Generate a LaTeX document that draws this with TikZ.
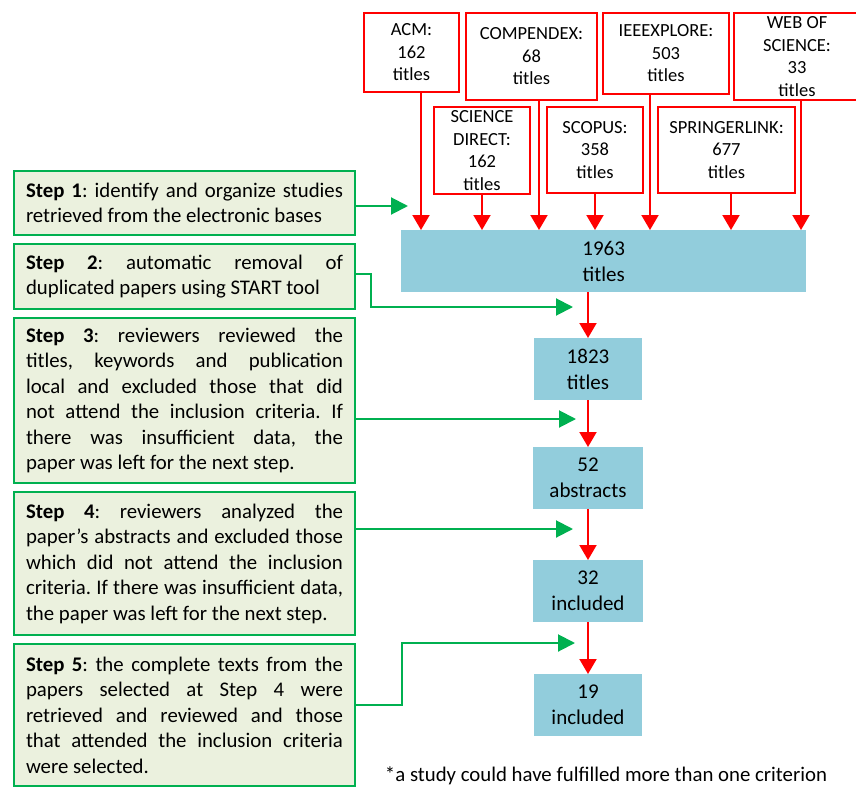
\documentclass[tikz,border=0pt]{standalone}
\usepackage{fontspec}
\setmainfont{Carlito}
\usetikzlibrary{arrows.meta,positioning,calc}
\definecolor{Red}{HTML}{FF0000}
\definecolor{Green}{HTML}{00B050}
\definecolor{stepFill}{HTML}{EBF1DE}
\definecolor{countFill}{HTML}{92CDDC}
\frenchspacing
\tikzset{
  base/.style={draw=Red,line width=2pt,fill=white,align=center,anchor=north west,inner sep=0pt,
    font=\fontsize{18.5}{22.5}\selectfont},
  count/.style={fill=countFill,align=center,inner sep=0pt,minimum height=62pt,
    font=\fontsize{21}{26}\selectfont},
  stepbox/.style={draw=Green,line width=2pt,fill=stepFill,anchor=north west,text width=317pt,
    inner xsep=12pt,align=justify,font=\fontsize{20.8}{25.5}\selectfont},
  redarr/.style={draw=Red,line width=2pt,-{Triangle[width=17pt,length=15pt]}},
  grnarr/.style={draw=Green,line width=2pt,-{Triangle[width=17pt,length=17pt]}},
}

\begin{document}
\begin{tikzpicture}[x=1pt,y=-1pt]
  \useasboundingbox (0,0) rectangle (856,789);
  % electronic bases
  \foreach \nm/\x/\y/\w/\h/\txt in {
      acm/363/12/95/79/{ACM:\\162\\titles},
      comp/465/12/131/87/{COMPENDEX:\\68\\titles},
      ieee/602/12/126/81/{IEEEXPLORE:\\503\\titles},
      wos/733/12/126/87/{WEB OF\\SCIENCE:\\33\\titles},
      sd/433/106/96/87/{SCIENCE\\DIRECT:\\162\\titles},
      scopus/546/106/96/86/{SCOPUS:\\358\\titles},
      spr/657/106/137/86/{SPRINGERLINK:\\677\\titles}}
    \node[base,minimum width=\w pt,minimum height=\h pt] (\nm) at (\x,\y) {\txt};

  \node[count,anchor=north west,minimum width=405pt] (total) at (401,230) {1963\\titles};
  \node[count,anchor=north,minimum width=108pt] (c1823) at (588,338) {1823\\titles};
  \node[count,anchor=north,minimum width=110pt] (c52) at (588,447) {52\\abstracts};
  \node[count,anchor=north,minimum width=110pt] (c32) at (588,560) {32\\included};
  \node[count,anchor=north,minimum width=108pt] (c19) at (588,674) {19\\included};

  \foreach \nm/\dx in {acm/9.5,comp/7.5,ieee/-16,wos/4,sd/0,scopus/0,spr/4.5}
    \draw[redarr] ([xshift=\dx pt]\nm.south) -- ([xshift=\dx pt]\nm.south |- total.north);
  \draw[redarr] (c1823.north |- total.south) -- (c1823.north);
  \draw[redarr] (c52.north |- c1823.south) -- (c52.north);
  \draw[redarr] (c32.north |- c52.south) -- (c32.north);
  \draw[redarr] (c19.north |- c32.south) -- (c19.north);

  % steps
  \node[stepbox,minimum height=64pt] (s1) at (13,170)
    {\textbf{Step 1}: identify and organize studies\linebreak retrieved from the electronic bases};
  \node[stepbox,minimum height=65pt] (s2) at (13,243)
    {\textbf{Step 2}: automatic removal of\linebreak duplicated papers using START tool};
  \node[stepbox,minimum height=165pt] (s3) at (13,317)
    {\textbf{Step 3}: reviewers reviewed the\linebreak titles, keywords and publication\linebreak
     local and excluded those that did\linebreak not attend the inclusion criteria. If\linebreak
     there was insufficient data, the\linebreak paper was left for the next step.};
  \node[stepbox,minimum height=143pt] (s4) at (13,491)
    {\textbf{Step 4}: reviewers analyzed the\linebreak paper's abstracts and excluded those\linebreak
     which did not attend the inclusion\linebreak criteria. If there was insufficient data,\linebreak
     the paper was left for the next step.};
  \node[stepbox,minimum height=142pt] (s5) at (13,643)
    {\textbf{Step 5}: the complete texts from the\linebreak papers selected at Step 4 were\linebreak
     retrieved and reviewed and those\linebreak that attended the inclusion criteria\linebreak
     were selected.};

  \coordinate (g1) at (408,206);
  \coordinate (g2) at (573,307);
  \coordinate (g3) at (576,419);
  \coordinate (g4) at (573,529);
  \coordinate (g5) at (575,643);
  \draw[grnarr] (s1.east |- g1) -- (g1);
  \draw[grnarr] (s2.east |- 0,274) -- ++(15,0) |- (g2);
  \draw[grnarr] (s3.east |- g3) -- (g3);
  \draw[grnarr] (s4.east |- g4) -- (g4);
  \draw[grnarr] (s5.east |- 0,705) -- ++(46,0) |- (g5);

  \node[font=\fontsize{20.8}{23}\selectfont] (note) at (606,776)
    {*a study could have fulfilled more than one criterion};
\end{tikzpicture}
\end{document}
